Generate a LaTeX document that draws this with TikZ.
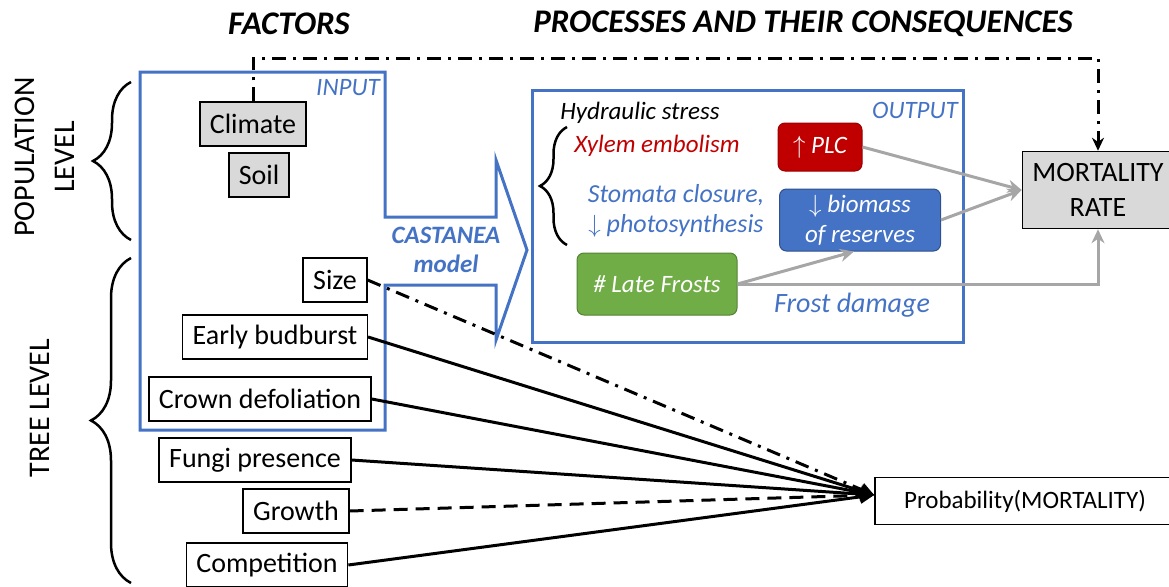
\documentclass[tikz,border=0pt]{standalone}
\usepackage{fontspec}
\setmainfont{Carlito}
\usepackage{tikz}
\usetikzlibrary{arrows.meta,decorations.pathreplacing}

\definecolor{inputblue}{HTML}{4472C4}
\definecolor{plcred}{HTML}{C00000}
\definecolor{frostgreen}{HTML}{70AD47}
\definecolor{boxgrey}{HTML}{D9D9D9}
\definecolor{linkgrey}{HTML}{A6A6A6}

\begin{document}
\begin{tikzpicture}[x=1pt,y=-1pt,
  factor/.style={draw,line width=1.5pt,inner xsep=10pt,minimum height=44pt,font=\fontsize{28}{33}\selectfont},
  envfactor/.style={factor,fill=boxgrey},
  heading/.style={font=\fontsize{33}{38}\selectfont\bfseries\itshape},
  scalelabel/.style={rotate=90,align=center,font=\fontsize{30}{40}\selectfont},
  blueline/.style={draw=inputblue,line width=3pt},
  bluetext/.style={text=inputblue,font=\fontsize{25}{30}\selectfont\itshape,align=center,inner sep=0pt},
  process/.style={rounded corners=7pt,line width=1pt,text=white,align=center,font=\fontsize{25}{30}\selectfont\itshape},
  brace/.style={decorate,decoration={brace,amplitude=#1},line width=2.5pt},
  greylink/.style={draw=linkgrey,line width=3pt,-{Stealth[length=14pt,width=13pt]}},
  blacklink/.style={line width=3pt,-{Triangle[length=14pt,width=13pt]}}
]
\useasboundingbox (0,0) rectangle (1169,586);

% headings and scales
\node[heading] (fact) at (289,24) {FACTORS};
\node[heading] (proc) at (803,24) {PROCESSES AND THEIR CONSEQUENCES};
\node[scalelabel] (pop) at (45,157) {POPULATION\\LEVEL};
\node[scalelabel] (tree) at (40,408) {TREE LEVEL};
\draw[brace=38pt] (131,240) -- (131,82);
\draw[brace=40pt] (131,583) -- (131,258);

% input box with the model arrow
\draw[blueline] (140,72) -- (385,72) -- (385,217) -- (496,217) -- (496,160) -- (527,250)
  -- (496,340) -- (496,285) -- (385,285) -- (385,430) -- (140,430) -- cycle;
\node[bluetext,font=\fontsize{25}{30}\selectfont\itshape] (inp) at (348,88) {INPUT};
\node[bluetext,font=\fontsize{25}{29}\selectfont\bfseries\itshape] (cast) at (446,250) {CASTANEA\\model};

% factors
\node[envfactor] (climate) at (253,124) {Climate};
\node[envfactor] (soil) at (259,175) {Soil};
\node[factor] (size) at (335,280) {Size};
\node[factor] (early) at (275,337) {Early budburst};
\node[factor] (crown) at (260,399) {Crown defoliation};
\node[factor] (fungi) at (255,460) {Fungi presence};
\node[factor] (growth) at (296,511) {Growth};
\node[factor] (compet) at (267,565) {Competition};

% output box
\draw[blueline] (532,90) rectangle (963,342);
\node[bluetext] (outp) at (915,110) {OUTPUT};
\node[inner sep=0pt,font=\fontsize{25}{30}\selectfont\itshape] (hydr) at (640,113) {Hydraulic stress};
\draw[brace=27pt] (567,245) -- (567,127);
\node[bluetext,text=plcred] (xylem) at (657,146) {Xylem embolism};
\node[bluetext,font=\fontsize{26}{30}\selectfont\itshape] (stomata) at (676,211) {Stomata closure,\\ $\downarrow$ photosynthesis};
\node[bluetext,font=\fontsize{28}{33}\selectfont\itshape] (fdam) at (852,305) {Frost damage};

\node[process,draw=plcred!80!black,fill=plcred,minimum width=84pt,minimum height=48pt] (plc) at (820,147) {$\uparrow$ PLC};
\node[process,draw=inputblue!70!black,fill=inputblue,minimum width=161pt,minimum height=62pt] (biomass) at (860,220) {$\downarrow$ biomass\\of reserves};
\node[process,draw=frostgreen!75!black,fill=frostgreen,minimum width=160pt,minimum height=62pt] (frost) at (657,284) {\# Late Frosts};

% mortality
\node[envfactor,minimum width=150pt,minimum height=77pt,align=center,font=\fontsize{28}{35}\selectfont] (mort) at (1098,190) {MORTALITY\\RATE};
\node[draw,line width=1.5pt,minimum width=300pt,minimum height=47pt,font=\fontsize{25}{30}\selectfont] (prob) at (1025,501) {Probability(MORTALITY)};
\coordinate (hub) at ([yshift=6pt]prob.west);

% links
\draw[greylink] (plc.east) -- (mort.west);
\draw[greylink] (biomass.east) -- (mort.west);
\draw[greylink] (frost.east) -- ([xshift=-6pt]biomass.south);
\draw[greylink] (frost.east) -| (mort.south);
\draw[line width=3pt,dash pattern=on 14pt off 7pt on 3pt off 7pt,-{Stealth[length=13pt,width=12pt]}]
  (climate.north) -- ++(0,-43) -| (mort.north);

\draw[blacklink,dash pattern=on 14pt off 7pt on 3pt off 7pt] (size.east) -- (hub);
\draw[blacklink] (early.east) -- (hub);
\draw[blacklink] (crown.east) -- (hub);
\draw[blacklink] (fungi.east) -- (hub);
\draw[blacklink,dash pattern=on 14pt off 8pt] (growth.east) -- (hub);
\draw[blacklink] (compet.east) -- (hub);
\end{tikzpicture}
\end{document}
